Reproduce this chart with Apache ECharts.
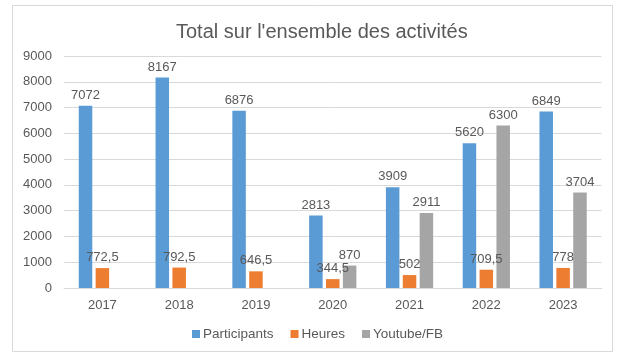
<!DOCTYPE html>
<html>
<head>
<meta charset="utf-8">
<script src="https://cdn.jsdelivr.net/npm/echarts@6/dist/echarts.min.js"></script>
<style>
html,body{margin:0;padding:0;background:#fff;}
#c{width:624px;height:358px;}
</style>
</head>
<body>
<div id="c"></div>
<script>
var categories = ['2017','2018','2019','2020','2021','2022','2023'];
var participants = [7072, 8167, 6876, 2813, 3909, 5620, 6849];
var heures = [772.5, 792.5, 646.5, 344.5, 502, 709.5, 778];
var youtube = [null, null, null, 870, 2911, 6300, 3704];
var seriesNames = ['Participants', 'Heures', 'Youtube/FB'];
var titleText = "Total sur l'ensemble des activités";

var FONT = '"Liberation Sans", Arial, sans-serif';
var TXT = '#595959';
function fmt(p){ return String(p.value).replace('.', ','); }
function mk(name, data, color){
  return {
    name: name, type: 'bar', data: data, barWidth: 13.5, barGap: '25%',
    itemStyle: { color: color },
    label: { show: true, position: 'top', distance: 4, color: TXT, fontSize: 13, fontFamily: FONT, formatter: fmt }
  };
}
var chart = echarts.init(document.getElementById('c'), null, {renderer:'canvas'});
chart.setOption({
  animation: false,
  backgroundColor: '#fff',
  graphic: [{ type: 'rect', shape: { x: 12.5, y: 5.5, width: 600, height: 346 }, style: { fill: 'none', stroke: '#d9d9d9', lineWidth: 1 }, silent: true }],
  title: { text: titleText, left: 176, top: 22, padding: 0, textStyle: { fontFamily: FONT, fontSize: 20, fontWeight: 'normal', color: TXT } },
  legend: {
    data: seriesNames, bottom: 17, left: 192, padding: 0, itemWidth: 8, itemHeight: 8, itemGap: 17,
    icon: 'rect', textStyle: { fontFamily: FONT, fontSize: 13.5, color: TXT, padding: [0,0,0,-2] }
  },
  grid: { left: 64, right: 22.5, top: 56, bottom: 70 },
  xAxis: {
    type: 'category', data: categories,
    axisLine: { lineStyle: { color: '#d9d9d9' } }, axisTick: { show: false },
    axisLabel: { color: TXT, fontFamily: FONT, fontSize: 13, margin: 11 }
  },
  yAxis: {
    type: 'value', min: 0, max: 9000, interval: 1000,
    axisLine: { show: false }, axisTick: { show: false },
    splitLine: { lineStyle: { color: '#d9d9d9' } },
    axisLabel: { color: TXT, fontFamily: FONT, fontSize: 13, margin: 12, formatter: function(v){ return String(v); } }
  },
  series: [
    mk(seriesNames[0], participants, '#5B9BD5'),
    mk(seriesNames[1], heures, '#ED7D31'),
    mk(seriesNames[2], youtube, '#A5A5A5')
  ]
});
</script>
</body>
</html>
